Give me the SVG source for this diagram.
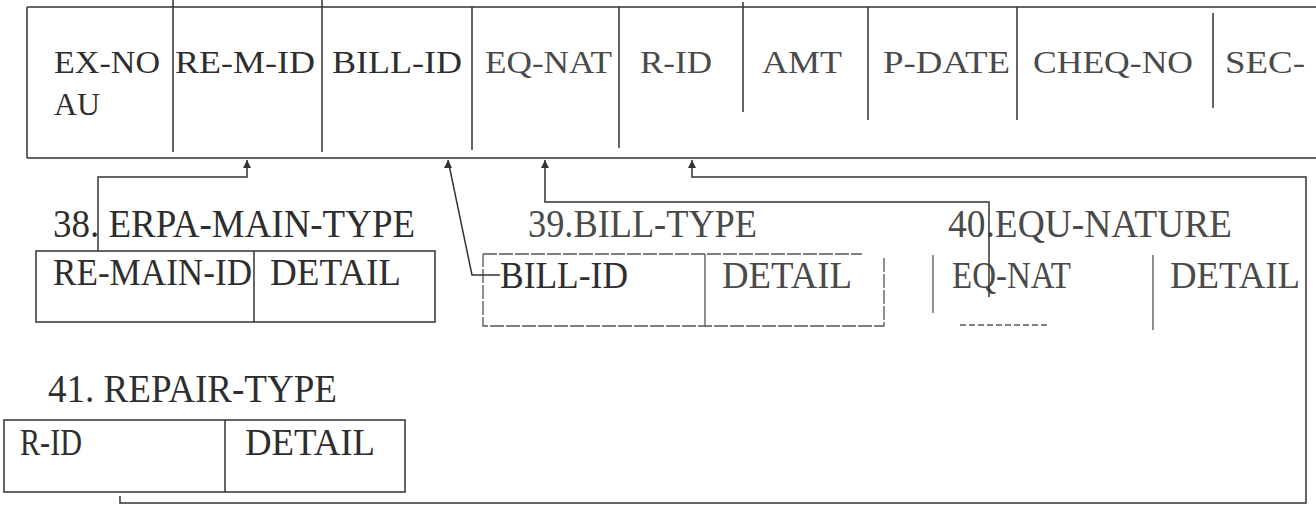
<svg xmlns="http://www.w3.org/2000/svg" width="1316" height="517" viewBox="0 0 1316 517">
<defs>
<marker id="arr" markerWidth="10" markerHeight="10" refX="5" refY="1" orient="0" markerUnits="userSpaceOnUse">
<path d="M1,9 L5,1 L9,9 Z" fill="#333"/>
</marker>
<style>
.t{font-family:"Liberation Serif","Times New Roman",serif;fill:#2e2e2e;font-size:31px}
.l{font-family:"Liberation Serif","Times New Roman",serif;fill:#2e2e2e;font-size:37px}
.h{font-size:39px}
.f{fill:#4a4a4a}
.ln{stroke:#333;stroke-width:1.5;fill:none}
.lt{stroke:#555;stroke-width:1.3;fill:none}
.c{stroke:#333;stroke-width:1.5;fill:none}
</style>
</defs>
<rect width="1316" height="517" fill="#fff"/>

<g id="expense-table">
<path class="ln" d="M27,7 H1316 M27,158 H1316 M27,7 V158" stroke-width="2.5"/>
<path class="ln" d="M173,0 V152 M322,0 V152 M472,7 V150 M619,7 V148 M743,2 V112 M868,7 V120 M1017,7 V120 M1213,13 V108"/>
<text class="t" x="54" y="73" textLength="106" lengthAdjust="spacingAndGlyphs">EX-NO</text>
<text class="t" x="54" y="115" textLength="46" lengthAdjust="spacingAndGlyphs">AU</text>
<text class="t" x="175" y="73" textLength="140" lengthAdjust="spacingAndGlyphs">RE-M-ID</text>
<text class="t" x="332" y="73" textLength="130" lengthAdjust="spacingAndGlyphs">BILL-ID</text>
<text class="t f" x="485" y="73" textLength="127" lengthAdjust="spacingAndGlyphs">EQ-NAT</text>
<text class="t f" x="640" y="73" textLength="72" lengthAdjust="spacingAndGlyphs">R-ID</text>
<text class="t f" x="762" y="73" textLength="80" lengthAdjust="spacingAndGlyphs">AMT</text>
<text class="t f" x="883" y="73" textLength="127" lengthAdjust="spacingAndGlyphs">P-DATE</text>
<text class="t f" x="1033" y="73" textLength="160" lengthAdjust="spacingAndGlyphs">CHEQ-NO</text>
<text class="t f" x="1225" y="73" textLength="80" lengthAdjust="spacingAndGlyphs">SEC-</text>
</g>

<g id="erpa-main-type">
<text class="l h" x="53" y="237" textLength="362" lengthAdjust="spacingAndGlyphs">38. ERPA-MAIN-TYPE</text>
<rect class="ln" x="36" y="251" width="399" height="71"/>
<path class="ln" d="M254,251 V322"/>
<text class="l" x="53" y="285" textLength="199" lengthAdjust="spacingAndGlyphs">RE-MAIN-ID</text>
<text class="l" x="270" y="285" textLength="131" lengthAdjust="spacingAndGlyphs">DETAIL</text>
</g>

<g id="bill-type">
<text class="l h f" x="528" y="237" textLength="229" lengthAdjust="spacingAndGlyphs">39.BILL-TYPE</text>
<path class="lt" d="M483,254 H862 M884,258 V326 H483 V254" stroke-dasharray="14 2"/>
<path class="lt" d="M705,254 V326"/>
<text class="l" x="500" y="288" textLength="128" lengthAdjust="spacingAndGlyphs">BILL-ID</text>
<text class="l f" x="722" y="288" textLength="130" lengthAdjust="spacingAndGlyphs">DETAIL</text>
</g>

<g id="equ-nature">
<text class="l h f" x="948" y="237" textLength="284" lengthAdjust="spacingAndGlyphs">40.EQU-NATURE</text>
<path class="lt" d="M933,255 V313 M1153,255 V330"/>
<path class="lt" d="M960,325 H1050" stroke="#999" stroke-dasharray="6 3"/>
<text class="l f" x="952" y="288" textLength="119" lengthAdjust="spacingAndGlyphs">EQ-NAT</text>
<text class="l f" x="1170" y="288" textLength="130" lengthAdjust="spacingAndGlyphs">DETAIL</text>
</g>

<g id="repair-type">
<text class="l h" x="48" y="402" textLength="289" lengthAdjust="spacingAndGlyphs">41. REPAIR-TYPE</text>
<rect class="ln" x="4" y="420" width="401" height="72"/>
<path class="ln" d="M225,420 V492"/>
<text class="l" x="20" y="455" textLength="62" lengthAdjust="spacingAndGlyphs">R-ID</text>
<text class="l" x="245" y="455" textLength="130" lengthAdjust="spacingAndGlyphs">DETAIL</text>
</g>

<g id="connectors">
<path class="c" d="M98,251 V177 H247 V160" marker-end="url(#arr)"/>
<path class="c" d="M500,275 H472 L448,160" marker-end="url(#arr)"/>
<path class="c" d="M989,297 V202 H545 V160" marker-end="url(#arr)"/>
<path class="c" d="M120,496 V503 H1306 V177 H692 V160" marker-end="url(#arr)"/>
</g>
</svg>
